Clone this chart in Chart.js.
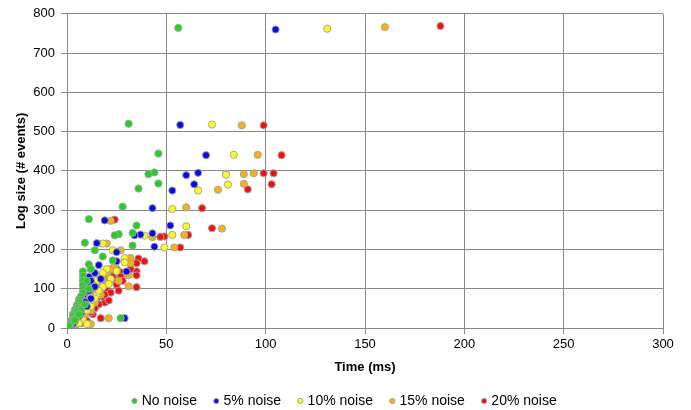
<!DOCTYPE html>
<html><head><meta charset="utf-8">
<script src="https://cdn.jsdelivr.net/npm/chart.js@4"></script>
<style>html,body{margin:0;padding:0;background:#fff}#wrap{width:691px;height:410px}</style>
</head><body><div id="wrap"><canvas id="c" width="691" height="410"></canvas></div>
<script>
const seriesNames = ["No noise", "5% noise", "10% noise", "15% noise", "20% noise"];
const seriesColors = ["#1fd31f", "#0a0ae6", "#ffff1a", "#f7b30c", "#f51010"];

const noNoiseX = [56,31,46,44,41,46,36,28,11,35, 33,26,24,9,33,14,18,23,11,12, 8,8,8,8,8,8,10,11,7,6, 6,9,5,5,7,4,4,3,3,27, 3,2,2,2,1,5,6,4];
const noNoiseY = [764,520,444,396,392,368,355,309,277,261, 242,239,236,217,210,198,182,172,162,150, 144,133,121,110,98,89,120,100,80,72, 65,60,58,52,45,46,40,35,30,25, 22,18,14,10,6,28,35,20];

const noise5X = [105,57,70,66,60,64,53,43,19,52, 43,37,34,15,44,25,25,16,30,12, 14,11,12,10,10,9,8,8,7,6, 5,5,4,29,3,3,2,2,17,14, 12,10,7,6,4,3,9,11];
const noise5Y = [760,517,440,395,389,366,350,305,274,261, 241,238,236,216,207,193,170,160,144,150, 140,130,120,110,100,90,80,70,60,50, 42,35,28,25,20,14,8,4,125,105, 75,55,38,30,18,10,66,95];

const noise10X = [131,73,84,80,80,81,66,53,60,53, 39,18,49,23,29,29,20,18,15,15, 13,12,11,10,9,9,8,7,6,5, 4,3,3,22,18,15,12,10,8,10, 5,6,7,12,14,16,21,25];
const noise10Y = [762,518,441,393,390,365,350,303,259,237, 235,215,205,198,178,167,150,140,130,120, 110,100,90,80,70,60,50,40,30,22, 15,8,4,125,105,85,65,45,20,10, 25,12,35,55,75,95,112,145];

const noise15X = [160,88,96,94,89,89,76,60,22,78, 59,43,43,20,54,27,32,32,31,31, 21,22,20,18,17,15,14,13,12,11, 10,9,8,7,5,4,4,20,17,14, 12,12,6,9,16,24,26,11];
const noise15Y = [766,516,441,394,392,367,352,307,273,253, 237,233,231,215,205,198,178,165,134,106, 25,150,140,128,118,100,90,80,70,60, 50,40,30,22,15,8,4,112,85,65, 45,10,18,35,130,160,120,95];

const noise20X = [188,99,108,99,104,103,91,68,24,73, 61,49,47,57,36,39,35,35,35,27, 27,35,17,25,22,19,18,16,15,14, 13,12,11,10,9,8,6,4,3,2, 24,21,20,17,15,19,14,12,13,9, 10,7, 20,22,18,25,28,16,14,12,30,32, 26,21,23,13,11,17,19,24];
const noise20Y = [769,516,440,394,394,366,353,305,276,254, 237,233,232,205,177,170,165,144,134,142, 131,104,25,150,140,130,120,110,100,90, 80,70,60,50,40,30,20,15,10,6, 125,115,95,85,75,65,55,45,35,25, 18,12, 100,90,80,110,120,60,50,40,140,150, 95,70,130,65,55,105,85,160];

const xTickValues = [0,50,100,150,200,250,300];
const yTickValues = [0,100,200,300,400,500,600,700,800];

const allX = [noNoiseX, noise5X, noise10X, noise15X, noise20X];
const allY = [noNoiseY, noise5Y, noise10Y, noise15Y, noise20Y];

const FONT = "'Liberation Sans', Arial, sans-serif";
const GRID = '#888888';

const datasets = seriesNames.map((name, s) => ({
  label: name,
  data: allX[s].map((x, i) => ({x: x, y: allY[s][i]})),
  backgroundColor: seriesColors[s],
  borderColor: '#a3a3a3',
  borderWidth: 1,
  pointRadius: 3.6,
  pointHoverRadius: 3.6
}));

const legendShift = {
  id: 'legendShift',
  afterLayout(chart) {
    if (chart.legend) { chart.legend.left += 14; chart.legend.right += 14; }
  }
};

new Chart(document.getElementById('c'), {
  type: 'scatter',
  data: { datasets },
  plugins: [legendShift],
  options: {
    responsive: false,
    animation: false,
    events: [],
    layout: { padding: { left: 0, right: 28, top: 12, bottom: -8 } },
    plugins: {
      tooltip: { enabled: false },
      legend: {
        position: 'bottom',
        labels: {
          usePointStyle: true,
          pointStyle: 'circle',
          boxWidth: 0.5,
          boxHeight: 3.7,
          padding: 19,
          color: '#000',
          font: { family: FONT, size: 14 }
        }
      }
    },
    scales: {
      x: {
        type: 'linear',
        min: 0, max: 300,
        afterBuildTicks: (sc) => { sc.ticks = xTickValues.map(v => ({value: v})); },
        afterFit: (sc) => { sc.height = 47; },
        ticks: { color: '#000', font: { family: FONT, size: 13 }, padding: 3, maxRotation: 0 },
        grid: { color: GRID, lineWidth: 1, tickLength: 6, tickColor: GRID },
        border: { color: GRID, width: 1 },
        title: { display: true, text: 'Time (ms)', color: '#000', font: { family: FONT, size: 13, weight: 'bold' }, padding: { top: 4, bottom: 0 } }
      },
      y: {
        type: 'linear',
        min: 0, max: 800,
        afterBuildTicks: (sc) => { sc.ticks = yTickValues.map(v => ({value: v})); },
        afterFit: (sc) => { sc.width = 67; },
        ticks: { color: '#000', font: { family: FONT, size: 13 }, padding: 6 },
        grid: { color: GRID, lineWidth: 1, tickLength: 6, tickColor: GRID },
        border: { color: GRID, width: 1 },
        title: { display: true, text: 'Log size (# events)', color: '#000', font: { family: FONT, size: 13, weight: 'bold' }, padding: { top: 14, bottom: 4 } }
      }
    }
  }
});
</script></body></html>
